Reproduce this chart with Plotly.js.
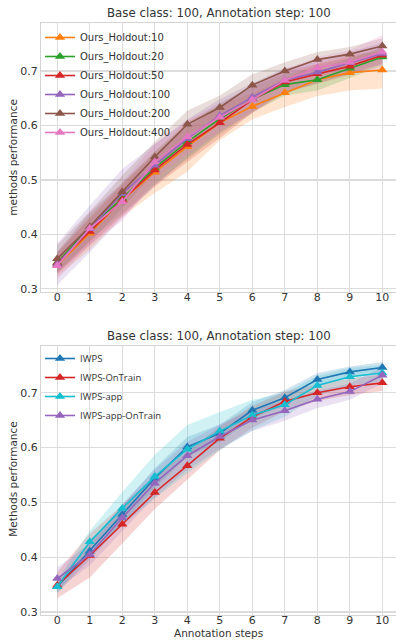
<!DOCTYPE html>
<html>
<head>
<meta charset="utf-8">
<script src="https://cdn.plot.ly/plotly-3.0.1.min.js"></script>
<style>html,body{margin:0;padding:0;background:#fff;}#chart{width:396px;height:641px;}</style>
</head>
<body>
<div id="chart"></div>
<script>
// ---- data ----
const steps = [0,1,2,3,4,5,6,7,8,9,10];

const topNames = ["Ours_Holdout:10","Ours_Holdout:20","Ours_Holdout:50","Ours_Holdout:100","Ours_Holdout:200","Ours_Holdout:400"];
const holdout10  = [0.343,0.402,0.463,0.514,0.561,0.605,0.635,0.660,0.684,0.697,0.702];
const holdout20  = [0.348,0.413,0.466,0.522,0.570,0.612,0.648,0.675,0.684,0.705,0.726];
const holdout50  = [0.347,0.405,0.463,0.518,0.565,0.605,0.647,0.680,0.695,0.709,0.729];
const holdout100 = [0.345,0.410,0.475,0.527,0.576,0.618,0.652,0.683,0.698,0.715,0.732];
const holdout200 = [0.355,0.414,0.478,0.542,0.602,0.633,0.674,0.700,0.721,0.731,0.746];
const holdout400 = [0.342,0.411,0.460,0.533,0.579,0.615,0.647,0.683,0.706,0.716,0.735];
const holdout10Std  = [0.021,0.030,0.031,0.038,0.046,0.032,0.024,0.026,0.030,0.033,0.034];
const holdout20Std  = [0.020,0.025,0.028,0.030,0.032,0.028,0.024,0.020,0.020,0.018,0.016];
const holdout50Std  = [0.020,0.025,0.028,0.030,0.032,0.028,0.024,0.020,0.018,0.016,0.015];
const holdout100Std = [0.038,0.043,0.045,0.038,0.035,0.030,0.026,0.022,0.020,0.020,0.020];
const holdout200Std = [0.025,0.028,0.030,0.028,0.025,0.022,0.020,0.016,0.014,0.013,0.014];
const holdout400Std = [0.025,0.030,0.035,0.033,0.030,0.027,0.024,0.020,0.020,0.022,0.031];

const botNames = ["IWPS","IWPS-OnTrain","IWPS-app","IWPS-app-OnTrain"];
const iwps         = [0.346,0.411,0.478,0.544,0.601,0.626,0.668,0.691,0.724,0.738,0.746];
const iwpsOnTrain  = [0.349,0.403,0.460,0.518,0.567,0.617,0.656,0.684,0.700,0.711,0.718];
const iwpsApp      = [0.346,0.428,0.489,0.547,0.597,0.630,0.659,0.678,0.713,0.729,0.736];
const iwpsAppOnTrain = [0.361,0.405,0.472,0.535,0.585,0.620,0.650,0.667,0.688,0.702,0.732];
const iwpsStd         = [0.012,0.015,0.018,0.018,0.018,0.016,0.015,0.014,0.012,0.010,0.010];
const iwpsOnTrainStd  = [0.024,0.040,0.035,0.030,0.025,0.022,0.020,0.018,0.015,0.015,0.015];
const iwpsAppStd      = [0.012,0.020,0.030,0.040,0.044,0.035,0.028,0.022,0.018,0.016,0.015];
const iwpsAppOnTrainStd = [0.020,0.020,0.025,0.025,0.025,0.022,0.020,0.018,0.016,0.015,0.015];

const topColors = ["#ff7f0e","#2ca02c","#d62728","#9467bd","#8c564b","#e377c2"];
const botColors = ["#1f77b4","#d62728","#17becf","#9467bd"];

function rgba(hex,a){const n=parseInt(hex.slice(1),16);return `rgba(${n>>16&255},${n>>8&255},${n&255},${a})`;}

const traces = [];
function addGroup(names, means, stds, colors, xa, ya, legend){
  means.forEach((m,i)=>{
    const up = m.map((v,j)=>v+stds[i][j]);
    const lo = m.map((v,j)=>v-stds[i][j]);
    traces.push({x: steps.concat(steps.slice().reverse()), y: up.concat(lo.slice().reverse()),
      xaxis:xa, yaxis:ya, type:'scatter', mode:'lines', fill:'toself',
      fillcolor: rgba(colors[i],0.2), line:{width:0,color:'rgba(0,0,0,0)'},
      hoverinfo:'skip', showlegend:false});
  });
  means.forEach((m,i)=>{
    traces.push({x: steps, y: m, name: names[i], xaxis:xa, yaxis:ya, legend: legend,
      type:'scatter', mode:'lines+markers',
      line:{color:colors[i], width:1.6},
      marker:{symbol:'triangle-up', size:9, color:colors[i]}});
  });
}
addGroup(topNames,[holdout10,holdout20,holdout50,holdout100,holdout200,holdout400],
  [holdout10Std,holdout20Std,holdout50Std,holdout100Std,holdout200Std,holdout400Std],topColors,'x','y','legend');
addGroup(botNames,[iwps,iwpsOnTrain,iwpsApp,iwpsAppOnTrain],
  [iwpsStd,iwpsOnTrainStd,iwpsAppStd,iwpsAppOnTrainStd],botColors,'x2','y2','legend2');

const W=396,H=641;
const gridC='#dcdcdc', txt='#333333';
const fontF='DejaVu Sans';
const xax = (anchor)=>({range:[-0.5,10.42], domain:[41/W,1], anchor:anchor, tickvals:steps,
  showgrid:true, gridcolor:gridC, gridwidth:1.3, zeroline:false, showline:true, mirror:true,
  linecolor:'#d4d4d4', linewidth:1, ticks:'', ticklabelstandoff:-5, tickfont:{family:fontF,size:11,color:txt}});
const yax = (anchor, rng, dom)=>({range:rng, domain:dom, anchor:anchor, tickvals:[0.3,0.4,0.5,0.6,0.7],
  tickformat:'.1f', showgrid:true, gridcolor:gridC, gridwidth:1.3, zeroline:false, showline:true, mirror:true,
  linecolor:'#d4d4d4', linewidth:1, ticks:'', tickfont:{family:fontF,size:11,color:txt}});

const layout = {
  width:W, height:H, margin:{l:0,r:0,t:0,b:0}, paper_bgcolor:'#fff', plot_bgcolor:'#fff',
  font:{family:fontF,color:txt},
  xaxis: xax('y'), yaxis: yax('x',[0.2945,0.7888],[1-291.7/H,1-22.7/H]),
  xaxis2: xax('y2'), yaxis2: yax('x2',[0.2951,0.7852],[1-614.7/H,1-346/H]),
  legend:{x:40/W, y:1-23/H, xanchor:'left', yanchor:'top', bgcolor:'rgba(0,0,0,0)',
    font:{family:fontF,size:10,color:txt}, tracegroupgap:0, itemwidth:30},
  legend2:{x:40/W, y:1-344/H, xanchor:'left', yanchor:'top', bgcolor:'rgba(0,0,0,0)',
    font:{family:'Open Sans',size:9.5,color:txt}, tracegroupgap:0, itemwidth:30},
  annotations:[
    {text:'Base class: 100, Annotation step: 100', xref:'paper', yref:'paper', x:(41+396)/2/W, y:1-13.5/H,
      showarrow:false, font:{family:fontF,size:11.8,color:txt}, xanchor:'center', yanchor:'middle'},
    {text:'Base class: 100, Annotation step: 100', xref:'paper', yref:'paper', x:(41+396)/2/W, y:1-335.7/H,
      showarrow:false, font:{family:fontF,size:11.8,color:txt}, xanchor:'center', yanchor:'middle'},
    {text:'methods performance', xref:'paper', yref:'paper', x:12.7/W, y:1-157/H, textangle:-90,
      showarrow:false, font:{family:fontF,size:10.5,color:txt}, xanchor:'center', yanchor:'middle'},
    {text:'Methods performance', xref:'paper', yref:'paper', x:12.7/W, y:1-479/H, textangle:-90,
      showarrow:false, font:{family:fontF,size:10.5,color:txt}, xanchor:'center', yanchor:'middle'},
    {text:'Annotation steps', xref:'paper', yref:'paper', x:(41+396)/2/W, y:1-633/H,
      showarrow:false, font:{family:fontF,size:10.5,color:txt}, xanchor:'center', yanchor:'middle'}
  ]
};
Plotly.newPlot('chart', traces, layout, {displayModeBar:false, staticPlot:true});
</script>
</body>
</html>
